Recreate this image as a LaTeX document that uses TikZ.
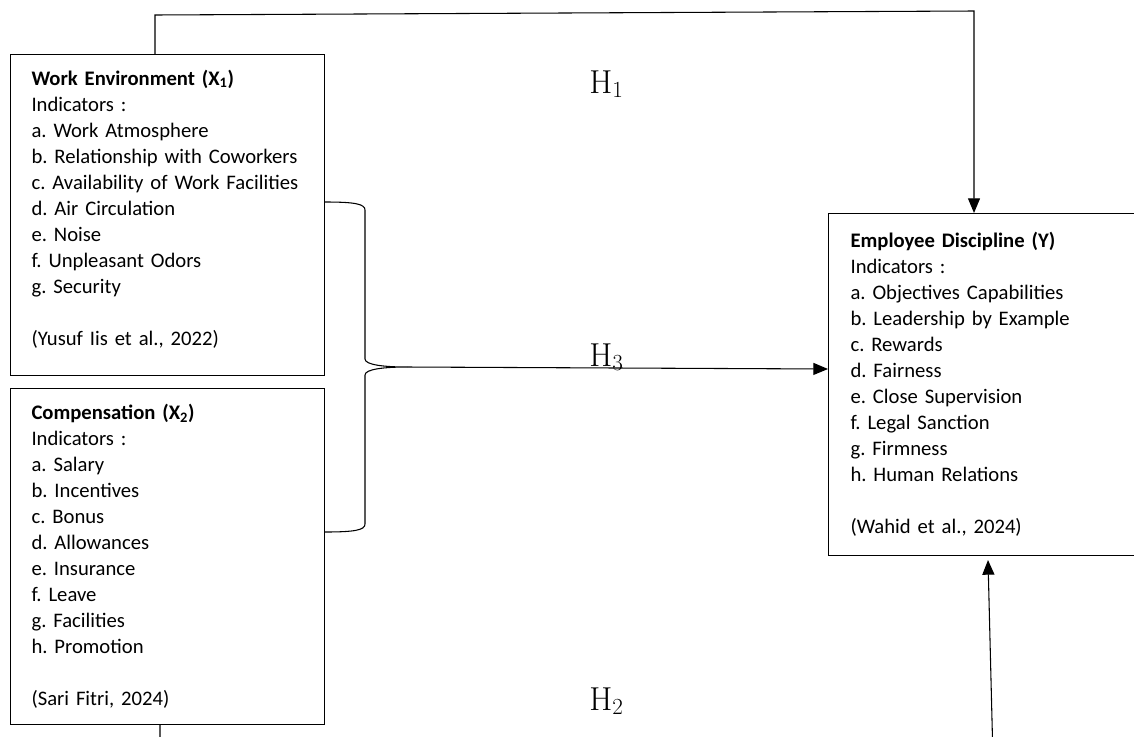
\documentclass[tikz,border=0pt]{standalone}
\usepackage[no-math]{fontspec}
\setmainfont{Carlito}
\usetikzlibrary{arrows.meta}

\newcommand{\boxfont}{\fontsize{15.5}{19.5}\selectfont\frenchspacing\hyphenpenalty=10000\relax}

\tikzset{
	varbox/.style={draw, line width=0.8pt, rectangle, anchor=north west, align=left,
		inner xsep=15.75pt, inner ysep=0pt, font=\boxfont},
	hyp/.style={font=\fontsize{24}{28}\selectfont, anchor=base west, inner sep=0pt},
	link/.style={line width=0.8pt},
	arr/.style={line width=0.8pt, -{Triangle[length=11pt,width=9pt]}}
}

\begin{document}
\begin{tikzpicture}[x=0.75pt, y=-0.75pt]
	\useasboundingbox (0,0) rectangle (1134,736);
	% variable boxes
	\node[varbox, text width=204pt, minimum height=240.75pt] (x1) at (10,54) {
		\textbf{Work Environment (X\textsubscript{1})}\\
		Indicators :\\
		a. Work Atmosphere\\
		b. Relationship with Coworkers\\
		c. Availability of Work Facilities\\
		d. Air Circulation\\
		e. Noise\\
		f. Unpleasant Odors\\
		g. Security\\[19.5pt]
		(Yusuf Iis et al., 2022)\\[-8pt]\mbox{}};
	\node[varbox, text width=204pt, minimum height=252pt] (x2) at (10,388) {
		\textbf{Compensation (X\textsubscript{2})}\\
		Indicators :\\
		a. Salary\\
		b. Incentives\\
		c. Bonus\\
		d. Allowances\\
		e. Insurance\\
		f. Leave\\
		g. Facilities\\
		h. Promotion\\[19.5pt]
		(Sari Fitri, 2024)};
	\node[varbox, text width=202.5pt, minimum height=256.5pt, inner xsep=16.5pt] (y) at (828,213) {
		\textbf{Employee Discipline (Y)}\\
		Indicators :\\
		a. Objectives Capabilities\\
		b. Leadership by Example\\
		c. Rewards\\
		d. Fairness\\
		e. Close Supervision\\
		f. Legal Sanction\\
		g. Firmness\\
		h. Human Relations\\[19.5pt]
		(Wahid et al., 2024)};
	% hypothesis labels
	\node[hyp] (h1) at (589,93)  {$\mathrm{H}_1$};
	\node[hyp] (h3) at (589,366) {$\mathrm{H}_3$};
	\node[hyp] (h2) at (589,710) {$\mathrm{H}_2$};
	% bends
	\coordinate (h1a) at (155,15);
	\coordinate (h1b) at (974,11);
	\coordinate (tip) at (407,367);
	\coordinate (h2a) at (160,760);
	\coordinate (h2b) at (993,760);
	\coordinate (h2c) at (988,560);
	% H1
	\draw[arr] (x1.north -| h1a) -- (h1a) -- (h1b) -- (y.north -| h1b);
	% brace and H3
	\draw[link] (x1.east |- 0,202) .. controls (355,202) and (365,204) .. (365,210)
		-- (365,359) .. controls (365,365) and (385,367) .. (tip)
		.. controls (385,367) and (365,369) .. (365,375)
		-- (365,524) .. controls (365,530) and (355,532) .. (x2.east |- 0,532);
	\draw[arr] (tip) -- (y.west |- 0,369);
	% H2
	\draw[arr] (x2.south -| h2a) -- (h2a) -- (h2b) -- (h2c);
\end{tikzpicture}
\end{document}
